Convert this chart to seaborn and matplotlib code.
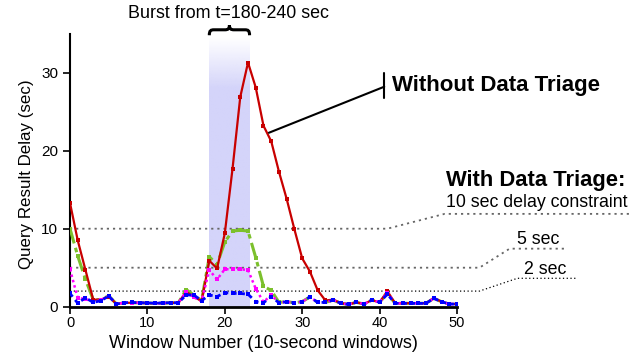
import numpy as np
import pandas as pd
import matplotlib
matplotlib.use("Agg")
import matplotlib.pyplot as plt
from matplotlib.path import Path
from matplotlib.patches import PathPatch
import seaborn as sns

# ---------------- data ----------------
windows = list(range(51))
without_triage = [13.3, 8.5, 4.7, 0.9, 0.9, 1.3, 0.35, 0.5, 0.5, 0.5,
                  0.45, 0.45, 0.45, 0.5, 0.5, 1.9, 1.3, 0.7, 5.9, 4.9,
                  9.4, 17.7, 26.9, 31.3, 28.1, 23.2, 21.2, 17.3, 13.8, 9.9,
                  6.2, 4.5, 2.1, 0.8, 0.9, 0.45, 0.3, 0.55, 0.35, 0.85,
                  0.55, 2.0, 0.45, 0.45, 0.45, 0.45, 0.45, 1.1, 0.65, 0.35,
                  0.35]
triage_10 = [10.0, 6.5, 3.5, 0.9, 0.9, 1.4, 0.35, 0.5, 0.5, 0.5,
             0.45, 0.45, 0.45, 0.5, 0.5, 2.2, 1.5, 0.8, 6.4, 5.4,
             8.3, 9.7, 9.8, 9.7, 6.3, 2.6, 2.1, 0.55, 0.65, 0.5,
             0.65, 1.25, 0.55, 0.55, 0.85, 0.43, 0.3, 0.56, 0.34, 0.85,
             0.56, 1.7, 0.43, 0.43, 0.43, 0.43, 0.43, 1.07, 0.64, 0.34,
             0.34]
triage_5 = [4.8, 1.1, 1.0, 0.6, 0.85, 1.35, 0.35, 0.5, 0.5, 0.5,
            0.45, 0.45, 0.45, 0.5, 0.5, 1.9, 1.2, 0.7, 4.7, 3.5,
            4.8, 4.8, 4.8, 4.7, 2.3, 0.6, 1.5, 0.5, 0.64, 0.5,
            0.64, 1.25, 0.55, 0.55, 0.85, 0.43, 0.3, 0.56, 0.34, 0.85,
            0.56, 1.8, 0.43, 0.43, 0.43, 0.43, 0.43, 1.07, 0.64, 0.34,
            0.34]
triage_2 = [1.7, 0.45, 1.15, 0.55, 0.77, 1.37, 0.34, 0.5, 0.55, 0.5,
            0.5, 0.43, 0.5, 0.5, 0.5, 1.5, 1.5, 0.77, 1.5, 1.3,
            1.8, 1.7, 1.7, 1.6, 0.64, 0.5, 1.3, 0.5, 0.64, 0.5,
            0.64, 1.25, 0.55, 0.55, 0.85, 0.43, 0.3, 0.56, 0.34, 0.85,
            0.56, 1.6, 0.43, 0.43, 0.43, 0.43, 0.43, 1.07, 0.64, 0.34,
            0.34]
burst_start, burst_end = 18.0, 23.2
x_ticks = [0, 10, 20, 30, 40, 50]
y_ticks = [0, 10, 20, 30]

df = pd.DataFrame({"window": windows,
                   "without": without_triage,
                   "t10": triage_10,
                   "t5": triage_5,
                   "t2": triage_2})

# ---------------- style ----------------
sns.set_theme(style="ticks")
plt.rcParams["font.family"] = ["Liberation Sans", "DejaVu Sans"]
plt.rcParams["text.color"] = "black"
plt.rcParams["axes.labelcolor"] = "black"

fig = plt.figure(figsize=(6.44, 3.58), dpi=100)
ax = fig.add_axes([0.1087, 0.1433, 0.6009, 0.7626])

# burst band with fading top
ys = np.linspace(34.6, 0, 200)
grad = np.ones((200, 1, 4))
grad[..., 0] = 212 / 255
grad[..., 1] = 212 / 255
grad[..., 2] = 250 / 255
grad[:, 0, 3] = np.clip((34.6 - ys) / 6.5, 0, 1)
ax.imshow(grad, extent=[burst_start, burst_end, 0, 34.6], aspect="auto",
          zorder=0, interpolation="bilinear")
ax.set_xlim(0, 50)
ax.set_ylim(0, 35)

# constraint guide lines
gl = dict(clip_on=False, zorder=1)
ax.plot([0, 41.0, 48.4, 72.5], [10, 10, 11.9, 11.9], color="#666666",
        linestyle=(0, (1.2, 2.2)), lw=1.3, **gl)
ax.plot([0, 52.9, 56.8, 64.0], [5, 5, 7.44, 7.44], color="#666666",
        linestyle=(0, (1.2, 2.2)), lw=1.3, **gl)
ax.plot([0, 52.9, 57.8, 65.3], [2, 2, 3.64, 3.64], color="black",
        linestyle=(0, (1, 2)), lw=0.9, **gl)

# series
sns.lineplot(data=df, x="window", y="t10", ax=ax, color="#7cc02c",
             linestyle=(0, (5, 1.5, 1.5, 1.5)), lw=2.2, marker="s",
             markersize=3.5, markeredgewidth=0, zorder=3)
sns.lineplot(data=df, x="window", y="without", ax=ax, color="#c80000",
             linestyle="-", lw=1.6, marker="s", markersize=2.8,
             markeredgewidth=0, zorder=4)
sns.lineplot(data=df, x="window", y="t5", ax=ax, color="#ff00ff",
             linestyle=(0, (1, 1.2)), lw=1.8, marker="s", markersize=3.3,
             markeredgewidth=0, zorder=5)
sns.lineplot(data=df, x="window", y="t2", ax=ax, color="#0000ff",
             linestyle=(0, (1.5, 1.5)), lw=2.0, marker="s", markersize=3.3,
             markeredgewidth=0, zorder=6)

# axes
sns.despine(ax=ax)
ax.spines["left"].set_linewidth(1.5)
ax.spines["bottom"].set_linewidth(2.0)
ax.spines["left"].set_color("black")
ax.spines["bottom"].set_color("black")
ax.set_xticks(x_ticks)
ax.set_yticks(y_ticks)
ax.tick_params(axis="both", direction="out", length=5, width=1.2,
               color="black", labelcolor="black")
ax.tick_params(axis="x", labelsize=10.5, pad=2)
ax.tick_params(axis="y", labelsize=11)
ax.set_xlabel("Window Number (10-second windows)", fontsize=13, labelpad=3)
ax.set_ylabel("Query Result Delay (sec)", fontsize=12.2)
ax.yaxis.set_label_coords(-0.092, 0.486)

# brace over burst
verts = [(18.0, 34.8), (18.0, 35.4), (18.2, 35.5), (18.6, 35.5),
         (20.0, 35.5),
         (20.4, 35.5), (20.6, 35.6), (20.6, 36.1),
         (20.6, 35.6), (20.8, 35.5), (21.2, 35.5),
         (22.6, 35.5),
         (23.0, 35.5), (23.2, 35.4), (23.2, 34.8)]
codes = [Path.MOVETO, Path.CURVE4, Path.CURVE4, Path.CURVE4,
         Path.LINETO,
         Path.CURVE4, Path.CURVE4, Path.CURVE4,
         Path.CURVE4, Path.CURVE4, Path.CURVE4,
         Path.LINETO,
         Path.CURVE4, Path.CURVE4, Path.CURVE4]
ax.add_patch(PathPatch(Path(verts, codes), fill=False, lw=2.2,
                       edgecolor="black", clip_on=False, zorder=7))
ax.text(20.45, 37.6, "Burst from t=180-240 sec", ha="center", va="center",
        fontsize=12.9, clip_on=False)

# Without Data Triage annotation
ax.plot([40.6, 40.6], [26.7, 29.9], color="black", lw=1.5, clip_on=False)
ax.plot([40.6, 25.7], [28.2, 22.3], color="black", lw=1.5, clip_on=False,
        zorder=8)
ax.text(41.6, 28.4, "Without Data Triage", ha="left", va="center",
        fontsize=16, fontweight="bold", clip_on=False)

# With Data Triage annotation
ax.text(48.6, 16.2, "With Data Triage:", ha="left", va="center",
        fontsize=15.8, fontweight="bold", clip_on=False)
ax.text(48.6, 13.3, "10 sec delay constraint", ha="left", va="center",
        fontsize=12.8, clip_on=False)
ax.text(57.8, 8.64, "5 sec", ha="left", va="center", fontsize=12.8,
        clip_on=False)
ax.text(58.7, 4.83, "2 sec", ha="left", va="center", fontsize=12.8,
        clip_on=False)

fig.savefig("out.png", dpi=100)
